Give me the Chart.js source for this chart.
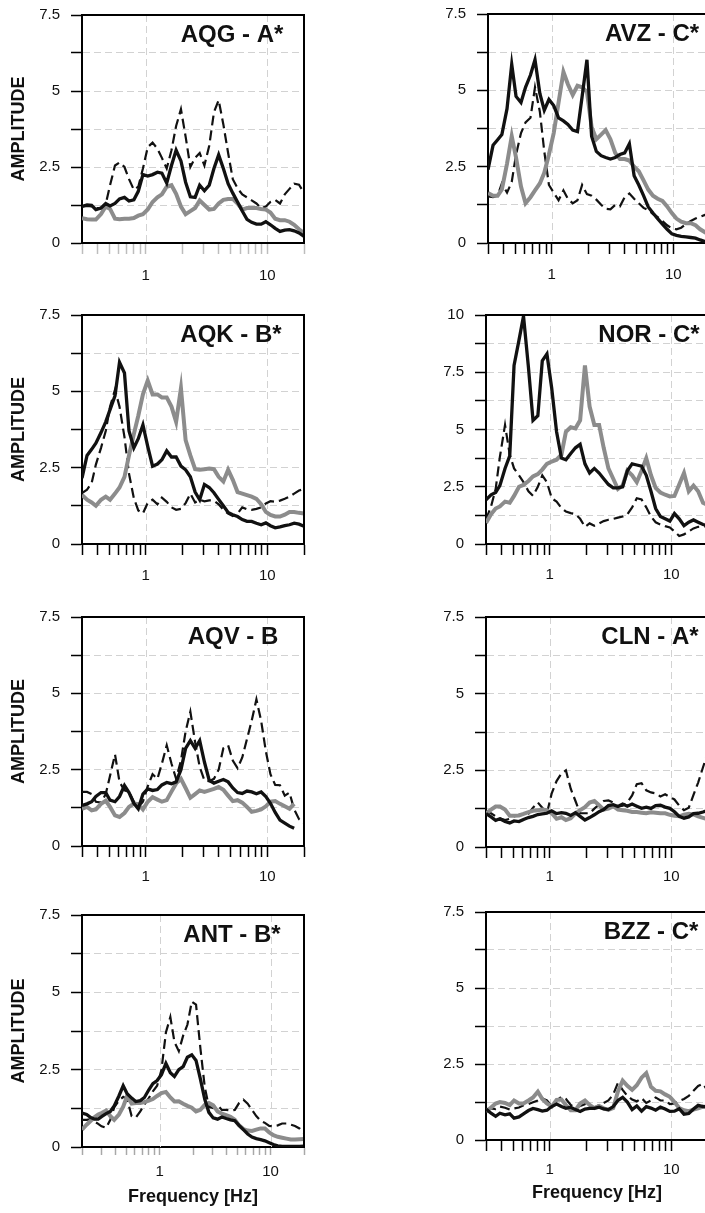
<!DOCTYPE html>
<html>
<head>
<meta charset="utf-8">
<title>H/V amplitude spectra</title>
<script src="https://cdn.jsdelivr.net/npm/chart.js@4.4.1/dist/chart.umd.min.js"></script>
<style>
  html, body { margin: 0; padding: 0; background: #fff; }
  #page { position: relative; width: 705px; height: 1213px; overflow: hidden; background: #fff; }
  #page canvas { position: absolute; }
</style>
</head>
<body>
<div id="page"></div>
<script>
// frequency grid (Hz) used by every station, ANT starts a bit lower
const FREQ = [
  0.30, 0.33, 0.36, 0.39, 0.43, 0.47, 0.51, 0.56, 0.61, 0.67, 0.73, 0.80,
  0.87, 0.95, 1.04, 1.14, 1.25, 1.36, 1.49, 1.63, 1.78, 1.95, 2.13, 2.33,
  2.55, 2.78, 3.04, 3.33, 3.64, 3.98, 4.35, 4.76, 5.20, 5.69, 6.22, 6.80,
  7.43, 8.13, 8.89, 9.72, 10.6, 11.6, 12.7, 13.9, 15.2, 16.6, 18.2, 20.0
];
const FREQ_ANT = [0.20, 0.22, 0.24, 0.26, 0.28].concat(FREQ);

// x axis ticks and the ones that get a label
const X_TICKS = [0.3, 0.4, 0.5, 0.6, 0.7, 0.8, 0.9, 1, 2, 3, 4, 5, 6, 7, 8, 9, 10, 20];
const X_TICKS_ANT = [0.2].concat(X_TICKS);
const X_LABELS = [1, 10];

// AQG
const AQG_BLACK = [
  1.20, 1.25, 1.24, 1.10, 1.15, 1.30, 1.22, 1.30, 1.45, 1.50, 1.38, 1.42,
  1.70, 2.25, 2.20, 2.25, 2.33, 2.30, 1.97, 2.55, 3.05, 2.70, 2.00, 1.52,
  1.50, 1.90, 1.72, 1.90, 2.45, 2.90, 2.45, 1.95, 1.64, 1.35, 1.05, 0.78,
  0.68, 0.62, 0.62, 0.70, 0.60, 0.48, 0.38, 0.42, 0.44, 0.40, 0.33, 0.22
];
const AQG_GRAY = [
  0.82, 0.78, 0.77, 0.77, 0.95, 1.20, 1.12, 0.80, 0.78, 0.80, 0.80, 0.82,
  0.90, 0.95, 1.10, 1.35, 1.50, 1.60, 1.85, 1.90, 1.62, 1.20, 0.95, 1.05,
  1.15, 1.40, 1.25, 1.10, 1.12, 1.30, 1.42, 1.45, 1.45, 1.30, 1.10, 1.15,
  1.15, 1.15, 1.12, 1.10, 1.00, 0.80, 0.75, 0.75, 0.70, 0.60, 0.45, 0.33
];
const AQG_DASH = [
  1.20, 1.22, 1.20, 1.15, 1.15, 1.28, 1.90, 2.55, 2.65, 2.50, 2.10, 1.75,
  1.85, 2.45, 3.15, 3.30, 3.10, 2.80, 2.45, 3.05, 3.85, 4.40, 3.50, 2.50,
  2.80, 2.96, 2.55, 3.20, 4.30, 4.70, 3.90, 2.96, 2.10, 1.80, 1.60, 1.50,
  1.40, 1.30, 1.15, 1.20, 1.35, 1.42, 1.30, 1.60, 1.78, 1.95, 1.92, 1.65
];

// AVZ
const AVZ_BLACK = [
  2.40, 3.20, 3.38, 3.55, 4.40, 5.85, 4.80, 4.60, 5.10, 5.50, 6.00, 4.90,
  4.35, 4.70, 4.50, 4.10, 4.00, 3.88, 3.70, 3.65, 4.80, 6.00, 3.50, 3.00,
  2.86, 2.80, 2.75, 2.80, 2.90, 2.95, 3.25, 2.20, 1.90, 1.55, 1.18, 0.98,
  0.80, 0.62, 0.45, 0.30, 0.25, 0.22, 0.20, 0.18, 0.16, 0.10, 0.05, 0.03
];
const AVZ_GRAY = [
  1.64, 1.55, 1.55, 1.75, 2.60, 3.50, 2.80, 1.85, 1.30, 1.50, 1.72, 1.95,
  2.30, 2.90, 3.60, 4.60, 5.60, 5.20, 4.85, 5.15, 5.10, 4.95, 3.80, 3.40,
  3.55, 3.70, 3.40, 2.95, 2.75, 2.75, 2.70, 2.50, 2.35, 2.05, 1.75, 1.55,
  1.45, 1.38, 1.20, 0.98, 0.80, 0.70, 0.65, 0.65, 0.58, 0.45, 0.35, 0.25
];
const AVZ_DASH = [
  1.53, 1.50, 1.55, 1.95, 1.65, 2.00, 2.90, 3.60, 3.95, 4.10, 5.10, 4.30,
  3.00, 1.90, 1.65, 1.40, 1.72, 1.45, 1.30, 1.40, 1.90, 1.60, 1.55, 1.42,
  1.25, 1.12, 1.10, 1.25, 1.20, 1.50, 1.62, 1.45, 1.30, 1.15, 1.08, 0.95,
  0.85, 0.72, 0.58, 0.48, 0.45, 0.50, 0.62, 0.72, 0.80, 0.86, 0.92, 0.95
];

// AQK
const AQK_BLACK = [
  2.16, 2.90, 3.10, 3.30, 3.65, 4.00, 4.40, 4.85, 5.95, 5.60, 3.70, 3.15,
  3.45, 3.90, 3.20, 2.55, 2.62, 2.76, 3.05, 2.85, 2.85, 2.55, 2.43, 2.20,
  1.70, 1.45, 1.95, 1.85, 1.68, 1.46, 1.25, 1.03, 0.96, 0.90, 0.80, 0.74,
  0.74, 0.68, 0.63, 0.69, 0.60, 0.53, 0.56, 0.60, 0.63, 0.68, 0.65, 0.58
];
const AQK_GRAY = [
  1.61, 1.45, 1.36, 1.25, 1.45, 1.55, 1.45, 1.65, 1.85, 2.20, 2.90, 3.60,
  4.20, 4.90, 5.35, 4.90, 4.90, 4.80, 4.80, 4.50, 4.00, 5.10, 3.40, 2.90,
  2.45, 2.43, 2.45, 2.47, 2.45, 2.20, 2.05, 2.43, 2.10, 1.70, 1.65, 1.60,
  1.55, 1.48, 1.30, 1.05, 0.95, 0.90, 0.90, 0.96, 1.05, 1.05, 1.02, 1.00
];
const AQK_DASH = [
  1.67, 1.78, 2.00, 2.60, 3.15, 3.70, 4.50, 5.05, 4.50, 3.50, 2.30, 1.50,
  1.10, 1.00, 1.35, 1.45, 1.30, 1.52, 1.38, 1.20, 1.12, 1.15, 1.34, 1.65,
  1.36, 1.45, 1.40, 1.43, 1.42, 1.30, 1.12, 1.00, 0.92, 1.00, 1.20, 1.14,
  1.12, 1.15, 1.20, 1.33, 1.40, 1.38, 1.42, 1.48, 1.55, 1.65, 1.75, 1.80
];

// NOR
const NOR_BLACK = [
  1.93, 2.15, 2.25, 2.55, 3.30, 3.85, 7.80, 8.90, 9.95, 7.70, 5.40, 5.60,
  8.00, 8.30, 6.80, 4.90, 3.75, 3.68, 3.95, 4.20, 4.35, 3.50, 3.10, 3.30,
  3.10, 2.85, 2.60, 2.45, 2.45, 2.50, 3.20, 3.50, 3.45, 3.40, 3.00, 2.30,
  1.55, 1.20, 1.10, 1.00, 1.33, 1.10, 0.80, 0.95, 1.05, 0.95, 0.85, 0.80
];
const NOR_GRAY = [
  0.92, 1.30, 1.55, 1.64, 1.85, 1.80, 2.10, 2.50, 2.58, 2.75, 2.95, 3.05,
  3.25, 3.50, 3.60, 3.68, 3.90, 4.90, 5.10, 5.05, 5.40, 7.80, 6.00, 5.20,
  5.20, 4.20, 3.30, 2.85, 2.40, 2.55, 3.20, 3.00, 2.70, 3.20, 3.75, 3.00,
  2.45, 2.25, 2.15, 2.08, 2.10, 2.60, 3.10, 2.30, 2.55, 2.30, 1.80, 1.70
];
const NOR_DASH = [
  1.06, 1.64, 2.40, 3.80, 5.20, 3.90, 3.30, 3.00, 2.70, 2.30, 2.10, 2.50,
  3.00, 2.70, 2.00, 1.85, 1.57, 1.42, 1.35, 1.30, 1.10, 0.75, 0.90, 0.80,
  0.90, 1.00, 1.06, 1.10, 1.15, 1.20, 1.30, 1.60, 2.00, 1.95, 1.60, 1.20,
  0.95, 0.85, 0.78, 0.72, 0.55, 0.35, 0.42, 0.55, 0.68, 0.75, 0.77, 0.77
];

// AQV
const AQV_BLACK = [
  1.33, 1.38, 1.45, 1.62, 1.75, 1.75, 1.50, 1.45, 1.62, 1.98, 1.75, 1.40,
  1.22, 1.70, 1.87, 1.82, 1.85, 2.00, 2.08, 2.04, 2.10, 2.50, 3.20, 3.45,
  3.20, 3.45, 2.75, 2.15, 2.06, 2.12, 2.18, 2.10, 1.90, 1.75, 1.72, 1.80,
  1.77, 1.71, 1.77, 1.62, 1.40, 1.10, 0.85, 0.75, 0.65, 0.58, null, null
];
const AQV_GRAY = [
  1.22, 1.28, 1.17, 1.20, 1.38, 1.48, 1.28, 1.00, 0.95, 1.08, 1.28, 1.39,
  1.37, 1.20, 1.45, 1.60, 1.52, 1.45, 1.50, 1.78, 2.05, 2.20, 1.90, 1.58,
  1.70, 1.82, 1.77, 1.82, 1.87, 1.93, 1.84, 1.65, 1.47, 1.50, 1.42, 1.28,
  1.12, 1.15, 1.20, 1.30, 1.45, 1.47, 1.38, 1.30, 1.22, 1.38, null, null
];
const AQV_DASH = [
  1.77, 1.77, 1.70, 1.45, 1.42, 1.70, 2.30, 3.00, 2.10, 1.82, 1.77, 1.45,
  1.27, 1.45, 1.95, 2.35, 2.20, 2.70, 3.30, 2.70, 2.20, 2.80, 3.75, 4.40,
  3.40, 2.59, 2.15, 2.12, 2.20, 2.50, 3.20, 3.30, 2.80, 2.55, 2.90, 3.50,
  4.10, 4.80, 4.10, 3.10, 2.35, 2.00, 1.99, 1.65, 1.75, 1.20, 0.88, 0.75
];

// CLN
const CLN_BLACK = [
  1.09, 0.98, 0.87, 0.92, 0.83, 0.78, 0.85, 0.83, 0.90, 0.96, 1.00, 1.06,
  1.08, 1.10, 1.18, 1.09, 1.12, 1.10, 1.03, 1.12, 1.00, 0.88, 0.96, 1.05,
  1.15, 1.22, 1.35, 1.38, 1.32, 1.40, 1.33, 1.40, 1.33, 1.26, 1.30, 1.26,
  1.35, 1.36, 1.30, 1.26, 1.15, 1.00, 0.94, 0.98, 1.09, 1.10, 1.14, 1.20
];
const CLN_GRAY = [
  1.09, 1.22, 1.32, 1.32, 1.22, 1.02, 1.02, 1.03, 1.08, 1.14, 1.18, 1.20,
  1.22, 1.20, 1.10, 0.92, 0.97, 0.88, 0.94, 1.10, 1.20, 1.30, 1.45, 1.50,
  1.36, 1.22, 1.25, 1.33, 1.22, 1.20, 1.18, 1.14, 1.14, 1.12, 1.10, 1.13,
  1.12, 1.10, 1.10, 1.05, 1.02, 1.00, 1.05, 1.08, 1.06, 1.00, 0.95, 0.90
];
const CLN_DASH = [
  1.14, 1.10, 1.00, 0.94, 0.88, 0.92, 1.00, 1.05, 1.08, 1.09, 1.28, 1.45,
  1.28, 1.10, 1.75, 2.15, 2.40, 2.50, 1.90, 1.50, 1.10, 1.10, 1.10, 1.25,
  1.38, 1.50, 1.52, 1.45, 1.32, 1.35, 1.45, 1.68, 2.05, 2.08, 1.85, 1.78,
  1.75, 1.65, 1.72, 1.63, 1.55, 1.35, 1.20, 1.28, 1.70, 2.10, 2.60, 3.10
];

// ANT (first five values are below 0.3 Hz)
const ANT_BLACK = [
  1.10, 1.05, 0.95, 0.90, 0.90,
  0.98, 1.08, 1.15, 1.33, 1.65, 1.98, 1.72, 1.58, 1.47, 1.50, 1.60, 1.85,
  2.05, 2.15, 2.34, 2.70, 2.40, 2.28, 2.50, 2.60, 2.90, 2.98, 2.80, 2.20,
  1.55, 1.12, 0.94, 0.90, 0.97, 0.92, 0.88, 0.85, 0.70, 0.56, 0.42, 0.32,
  0.27, 0.24, 0.20, 0.14, 0.08, 0.04, 0.02, 0.02, 0.02, 0.02, 0.02, 0.03
];
const ANT_GRAY = [
  0.56, 0.72, 0.85, 0.97, 1.05,
  1.10, 1.18, 1.00, 0.88, 1.05, 1.30, 1.65, 1.40, 1.42, 1.42, 1.45, 1.50,
  1.55, 1.65, 1.74, 1.78, 1.60, 1.47, 1.48, 1.40, 1.33, 1.27, 1.15, 1.20,
  1.36, 1.42, 1.35, 1.15, 1.08, 1.03, 0.98, 0.88, 0.70, 0.58, 0.53, 0.52,
  0.56, 0.60, 0.60, 0.47, 0.38, 0.33, 0.30, 0.27, 0.24, 0.24, 0.25, 0.26
];
const ANT_DASH = [
  0.88, 0.88, 0.90, 0.82, 0.75,
  0.67, 0.62, 0.88, 1.28, 1.50, 1.62, 1.55, 1.00, 0.95, 1.15, 1.38, 1.58,
  1.80, 1.98, 2.50, 3.70, 4.20, 3.40, 3.10, 3.60, 3.95, 4.70, 4.60, 3.20,
  1.95, 1.30, 1.26, 1.35, 1.20, 1.20, 1.18, 1.20, 1.42, 1.53, 1.40, 1.20,
  1.00, 0.85, 0.78, 0.68, 0.67, 0.70, 0.76, 0.76, 0.72, 0.68, 0.60, 0.45
];

// BZZ
const BZZ_BLACK = [
  1.02, 0.88, 0.78, 0.88, 0.83, 0.86, 0.72, 0.76, 0.86, 0.97, 1.04, 1.00,
  0.95, 0.98, 1.10, 1.18, 1.10, 1.04, 1.08, 1.00, 0.94, 1.02, 1.04, 1.04,
  1.08, 1.02, 1.00, 1.10, 1.30, 1.40, 1.25, 1.00, 1.12, 0.95, 1.10, 1.05,
  0.98, 1.08, 1.02, 0.94, 0.95, 1.03, 0.85, 0.87, 1.02, 1.14, 1.10, 1.10
];
const BZZ_GRAY = [
  0.93, 1.07, 1.20, 1.25, 1.22, 1.15, 1.30, 1.20, 1.20, 1.30, 1.40, 1.59,
  1.35, 1.20, 1.10, 1.32, 1.33, 1.15, 0.98, 0.98, 1.20, 1.30, 1.15, 1.05,
  1.12, 1.04, 0.99, 1.05, 1.60, 1.95, 1.78, 1.65, 1.80, 2.05, 2.20, 1.75,
  1.62, 1.60, 1.50, 1.42, 1.25, 1.05, 0.98, 0.95, 1.00, 1.04, 1.10, 1.08
];
const BZZ_DASH = [
  0.99, 1.04, 1.02, 1.10, 1.06, 1.00, 1.04, 1.07, 1.14, 1.18, 1.24, 1.30,
  1.37, 1.30, 1.12, 1.30, 1.42, 1.35, 1.15, 1.05, 1.12, 1.18, 1.08, 1.06,
  1.15, 1.22, 1.30, 1.50, 1.88, 1.65, 1.45, 1.33, 1.27, 1.38, 1.22, 1.30,
  1.40, 1.30, 1.30, 1.18, 1.20, 1.28, 1.35, 1.45, 1.62, 1.78, 1.85, 1.60
];

// where each panel sits on the page
const PANELS = [
  { name: 'AQG - A*', left: 82,  top: 15,  bottom: 243,  nameX: 232, yMax: 7.5, freq: FREQ, xTicks: X_TICKS,
    black: AQG_BLACK, gray: AQG_GRAY, dash: AQG_DASH, yTitle: true, xTitle: false, tickColor: '#bdbdbd', tickLen: 11, labelPad: 13 },
  { name: 'AVZ - C*', left: 488, top: 14,  bottom: 243,  nameX: 652, yMax: 7.5, freq: FREQ, xTicks: X_TICKS,
    black: AVZ_BLACK, gray: AVZ_GRAY, dash: AVZ_DASH, yTitle: false, xTitle: false, tickColor: '#000', tickLen: 11, labelPad: 12 },
  { name: 'AQK - B*', left: 82,  top: 315, bottom: 544,  nameX: 231, yMax: 7.5, freq: FREQ, xTicks: X_TICKS,
    black: AQK_BLACK, gray: AQK_GRAY, dash: AQK_DASH, yTitle: true, xTitle: false, tickColor: '#000', tickLen: 11, labelPad: 12 },
  { name: 'NOR - C*', left: 486, top: 315, bottom: 544,  nameX: 649, yMax: 10,  freq: FREQ, xTicks: X_TICKS,
    black: NOR_BLACK, gray: NOR_GRAY, dash: NOR_DASH, yTitle: false, xTitle: false, tickColor: '#000', tickLen: 11, labelPad: 11 },
  { name: 'AQV - B',  left: 82,  top: 617, bottom: 846,  nameX: 233, yMax: 7.5, freq: FREQ, xTicks: X_TICKS,
    black: AQV_BLACK, gray: AQV_GRAY, dash: AQV_DASH, yTitle: true, xTitle: false, tickColor: '#000', tickLen: 11, labelPad: 11 },
  { name: 'CLN - A*', left: 486, top: 617, bottom: 847,  nameX: 650, yMax: 7.5, freq: FREQ, xTicks: X_TICKS,
    black: CLN_BLACK, gray: CLN_GRAY, dash: CLN_DASH, yTitle: false, xTitle: false, tickColor: '#000', tickLen: 11, labelPad: 10 },
  { name: 'ANT - B*', left: 82,  top: 915, bottom: 1147, nameX: 232, yMax: 7.5, freq: FREQ_ANT, xTicks: X_TICKS_ANT,
    black: ANT_BLACK, gray: ANT_GRAY, dash: ANT_DASH, yTitle: true, xTitle: true, titlePad: 5, tickColor: '#a8a8a8', tickLen: 8, labelPad: 8 },
  { name: 'BZZ - C*', left: 486, top: 912, bottom: 1140, nameX: 651, yMax: 7.5, freq: FREQ, xTicks: X_TICKS,
    black: BZZ_BLACK, gray: BZZ_GRAY, dash: BZZ_DASH, yTitle: false, xTitle: true, titlePad: 2, tickColor: '#000', tickLen: 11, labelPad: 10 }
];

const FONT = "'Liberation Sans', Arial, sans-serif";
const GRID = '#d2d2d2';
const TICK_FONT = 15;
const Y_PAD = 11;
// the y axis asks for half a label plus its padding above the plot
const TOP_OFF = TICK_FONT * 1.2 / 2 + Y_PAD;
const Y_W = 82;
const PAD_R = 16;
const PLOT_W = 222;

// frame, gridlines at 1 and 10 Hz, and the station name
const framePlugin = {
  id: 'frame',
  beforeDatasetsDraw(chart) {
    const { ctx, chartArea: a, scales } = chart;
    ctx.save();
    ctx.strokeStyle = GRID;
    ctx.lineWidth = 1;
    ctx.setLineDash([7, 4]);
    X_LABELS.forEach(v => {
      const px = Math.round(scales.x.getPixelForValue(v)) + 0.5;
      ctx.beginPath();
      ctx.moveTo(px, a.top);
      ctx.lineTo(px, a.bottom);
      ctx.stroke();
    });
    ctx.restore();
  },
  afterDatasetsDraw(chart, args, opts) {
    const { ctx, chartArea: a } = chart;
    ctx.save();
    ctx.strokeStyle = '#000';
    ctx.lineWidth = 2;
    ctx.beginPath();
    ctx.moveTo(a.left, a.top);
    ctx.lineTo(a.right, a.top);
    ctx.lineTo(a.right, a.bottom);
    ctx.stroke();
    ctx.fillStyle = '#111';
    ctx.font = 'bold 24px ' + FONT;
    ctx.textAlign = 'center';
    ctx.textBaseline = 'alphabetic';
    ctx.fillText(opts.name, opts.cx, a.top + 27);
    ctx.restore();
  }
};

function series(freq, vals, color, width, dash, order) {
  return {
    data: freq.map((f, i) => ({ x: f, y: vals[i] })),
    borderColor: color,
    borderWidth: width,
    borderDash: dash,
    pointRadius: 0,
    tension: 0,
    fill: false,
    order: order
  };
}

const page = document.getElementById('page');

PANELS.forEach(p => {
  const xH = p.xTitle ? 66 : 50;
  const plotH = p.bottom - p.top;
  const canvas = document.createElement('canvas');
  canvas.width = Y_W + PLOT_W + PAD_R;
  canvas.height = Math.round(TOP_OFF + plotH + xH);
  canvas.style.left = (p.left - Y_W) + 'px';
  page.appendChild(canvas);

  const chart = new Chart(canvas, {
    type: 'line',
    data: {
      datasets: [
        series(p.freq, p.black, '#111', 3.3, [], 0),
        series(p.freq, p.gray, '#8c8c8c', 4, [], 1),
        series(p.freq, p.dash, '#111', 2.2, [10, 5], 2)
      ]
    },
    options: {
      responsive: false,
      animation: false,
      devicePixelRatio: 1,
      layout: { padding: { top: 0, right: PAD_R, left: 0, bottom: 0 } },
      plugins: {
        legend: { display: false },
        tooltip: { enabled: false },
        frame: { name: p.name, cx: p.nameX - (p.left - Y_W) }
      },
      scales: {
        x: {
          type: 'logarithmic',
          bounds: 'data',
          min: p.xTicks[0],
          max: 20,
          afterBuildTicks: ax => { ax.ticks = p.xTicks.map(v => ({ value: v })); },
          afterFit: ax => { ax.height = xH; },
          ticks: {
            autoSkip: false,
            maxRotation: 0,
            padding: p.labelPad,
            color: '#111',
            font: { family: FONT, size: TICK_FONT },
            callback: v => X_LABELS.includes(v) ? String(v) : ''
          },
          grid: {
            drawOnChartArea: false,
            tickLength: p.tickLen,
            tickColor: p.tickColor,
            tickWidth: 1.5,
            tickBorderDash: []
          },
          border: { display: true, color: '#000', width: 2 },
          title: {
            display: p.xTitle,
            text: 'Frequency [Hz]',
            color: '#111',
            font: { family: FONT, size: 18, weight: 'bold' },
            padding: { top: 0, bottom: p.titlePad || 0 }
          }
        },
        y: {
          type: 'linear',
          min: 0,
          max: p.yMax,
          afterFit: ax => { ax.width = Y_W; },
          ticks: {
            stepSize: 1.25,
            padding: Y_PAD,
            color: '#111',
            font: { family: FONT, size: TICK_FONT },
            callback: v => (Math.abs(v / 2.5 - Math.round(v / 2.5)) < 1e-6) ? String(v) : ''
          },
          grid: {
            color: c => (c.tick && c.tick.value > 0 && c.tick.value < p.yMax) ? GRID : 'rgba(0,0,0,0)',
            lineWidth: 1,
            tickLength: 11,
            tickColor: '#000',
            tickWidth: 1.5,
            tickBorderDash: []
          },
          border: { display: true, color: '#000', width: 2, dash: [7, 4] },
          title: {
            display: p.yTitle,
            text: 'AMPLITUDE',
            color: '#111',
            font: { family: FONT, size: 18, weight: 'bold' },
            padding: { top: 8, bottom: 0 }
          }
        }
      }
    },
    plugins: [framePlugin]
  });

  // place the canvas so the plot area lands where the reference has it
  canvas.style.top = Math.round(p.top - chart.chartArea.top) + 'px';
});
</script>
</body>
</html>
